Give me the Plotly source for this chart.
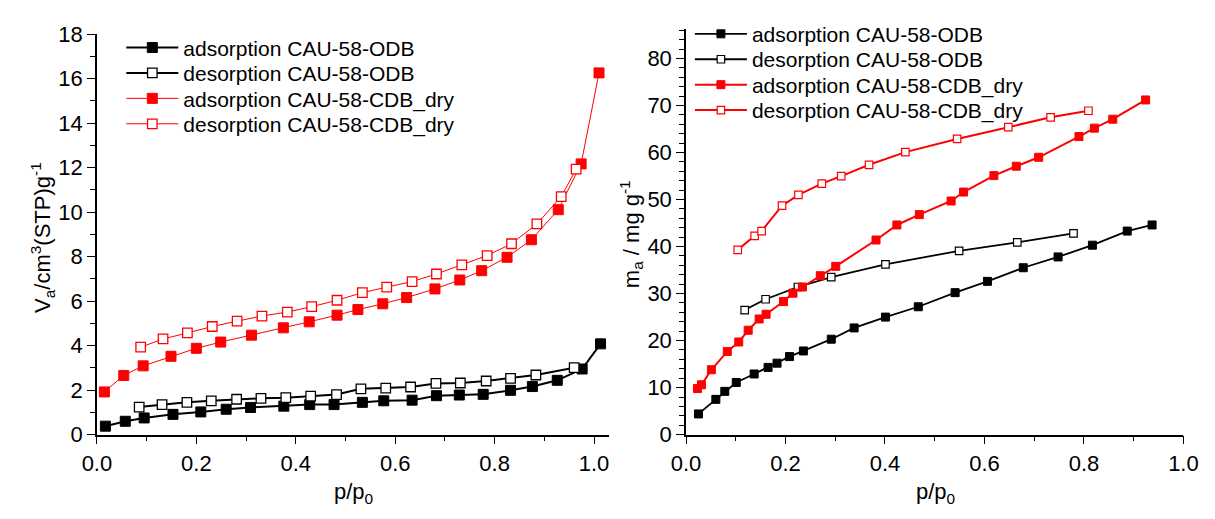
import plotly.graph_objects as go

# ---------------- Left panel: V_a vs p/p0 ----------------
L_ads_odb_x = [0.017, 0.057, 0.095, 0.153, 0.209, 0.260, 0.309, 0.376, 0.428, 0.477, 0.534,
               0.577, 0.634, 0.683, 0.729, 0.777, 0.832, 0.876, 0.926, 0.976, 1.013]
L_ads_odb_y = [0.38, 0.60, 0.75, 0.91, 1.02, 1.14, 1.22, 1.28, 1.35, 1.35, 1.45,
               1.52, 1.55, 1.75, 1.78, 1.81, 1.99, 2.16, 2.44, 2.95, 4.08]

L_des_odb_x = [0.085, 0.131, 0.181, 0.230, 0.281, 0.330, 0.380, 0.430, 0.482, 0.531,
               0.581, 0.631, 0.682, 0.731, 0.783, 0.832, 0.883, 0.960]
L_des_odb_y = [1.24, 1.35, 1.45, 1.52, 1.59, 1.63, 1.66, 1.73, 1.80, 2.06,
               2.09, 2.14, 2.30, 2.32, 2.41, 2.53, 2.68, 3.01]

L_ads_cdb_x = [0.015, 0.054, 0.093, 0.149, 0.200, 0.249, 0.311, 0.375, 0.427, 0.483, 0.525,
               0.575, 0.623, 0.680, 0.730, 0.774, 0.825, 0.874, 0.928, 0.974, 1.010]
L_ads_cdb_y = [1.92, 2.66, 3.09, 3.52, 3.88, 4.16, 4.47, 4.80, 5.07, 5.37, 5.62,
               5.88, 6.16, 6.55, 6.95, 7.37, 7.97, 8.76, 10.11, 12.17, 16.26]

L_des_cdb_x = [0.088, 0.133, 0.182, 0.232, 0.282, 0.332, 0.383, 0.432, 0.483, 0.534,
               0.583, 0.634, 0.683, 0.734, 0.785, 0.834, 0.885, 0.934, 0.964]
L_des_cdb_y = [3.93, 4.30, 4.57, 4.86, 5.10, 5.33, 5.51, 5.75, 6.04, 6.38,
               6.63, 6.88, 7.22, 7.63, 8.05, 8.58, 9.47, 10.70, 11.93]

# ---------------- Right panel: m_a vs p/p0 ----------------
R_ads_odb_x = [0.025, 0.060, 0.078, 0.101, 0.137, 0.165, 0.183, 0.208, 0.236, 0.292,
               0.338, 0.401, 0.467, 0.541, 0.606, 0.678, 0.748, 0.817, 0.887, 0.937]
R_ads_odb_y = [4.4, 7.5, 9.2, 11.1, 12.9, 14.3, 15.2, 16.6, 17.8, 20.3,
               22.7, 25.0, 27.2, 30.2, 32.6, 35.5, 37.8, 40.3, 43.3, 44.6]

R_des_odb_x = [0.118, 0.160, 0.225, 0.292, 0.401, 0.549, 0.666, 0.779]
R_des_odb_y = [26.5, 28.8, 31.4, 33.5, 36.2, 39.1, 40.9, 42.8]

R_ads_cdb_x = [0.023, 0.031, 0.051, 0.083, 0.106, 0.125, 0.147, 0.161, 0.196, 0.215, 0.234,
               0.270, 0.301, 0.382, 0.424, 0.469, 0.533, 0.558, 0.619, 0.664, 0.709,
               0.790, 0.821, 0.858, 0.924]
R_ads_cdb_y = [9.8, 10.6, 13.8, 17.7, 19.7, 22.2, 24.6, 25.6, 28.3, 30.1, 31.4,
               33.8, 35.8, 41.4, 44.6, 46.8, 49.7, 51.6, 55.1, 57.1, 59.0,
               63.4, 65.2, 67.1, 71.2]

R_des_cdb_x = [0.104, 0.138, 0.152, 0.193, 0.226, 0.273, 0.312, 0.368, 0.441, 0.545,
               0.648, 0.733, 0.809]
R_des_cdb_y = [39.3, 42.3, 43.3, 48.7, 51.0, 53.4, 55.0, 57.4, 60.1, 62.9,
               65.4, 67.5, 68.9]

names = ["adsorption CAU-58-ODB", "desorption CAU-58-ODB",
         "adsorption CAU-58-CDB_dry", "desorption CAU-58-CDB_dry"]

FONT = "Arial, 'Liberation Sans', sans-serif"
W, H = 1215, 519


def px_x(p):
    return p / W


def px_y(p):
    return 1 - p / H


fig = go.Figure()

legend_layout = {}


def add_legend(key, x_px, y_px):
    legend_layout[key] = dict(
        x=px_x(x_px), y=px_y(y_px), xanchor="left", yanchor="middle",
        bgcolor="rgba(0,0,0,0)", borderwidth=0, itemwidth=52,
        font=dict(family=FONT, size=21, color="black"), tracegroupgap=0,
    )


left_series = [
    (L_ads_odb_x, L_ads_odb_y, "black", True, 2.0, 10),
    (L_des_odb_x, L_des_odb_y, "black", False, 2.0, 9.5),
    (L_ads_cdb_x, L_ads_cdb_y, "#ff0000", True, 1.0, 10),
    (L_des_cdb_x, L_des_cdb_y, "#ff0000", False, 1.0, 9.5),
]
for i, ((xs, ys, c, filled, lw, ms), nm) in enumerate(zip(left_series, names)):
    key = "legend" if i == 0 else f"legend{i + 1}"
    add_legend(key, 109, 37.7 + 26.7 * i)
    fig.add_trace(go.Scatter(
        x=xs, y=ys, name=nm, mode="lines+markers", xaxis="x", yaxis="y",
        legend=key,
        line=dict(color=c, width=lw),
        marker=dict(symbol="square", size=ms,
                    color=c if filled else "white",
                    line=dict(color=c, width=1 if filled else 1.3)),
    ))

right_series = [
    (R_ads_odb_x, R_ads_odb_y, "black", True, 1.8, 8),
    (R_des_odb_x, R_des_odb_y, "black", False, 1.8, 7.5),
    (R_ads_cdb_x, R_ads_cdb_y, "#ff0000", True, 2.0, 8),
    (R_des_cdb_x, R_des_cdb_y, "#ff0000", False, 2.0, 7.5),
]
for i, ((xs, ys, c, filled, lw, ms), nm) in enumerate(zip(right_series, names)):
    key = f"legend{i + 5}"
    add_legend(key, 692, 23.3 + 26.7 * i)
    fig.add_trace(go.Scatter(
        x=xs, y=ys, name=nm, mode="lines+markers", xaxis="x2", yaxis="y2",
        legend=key,
        line=dict(color=c, width=lw),
        marker=dict(symbol="square", size=ms,
                    color=c if filled else "white",
                    line=dict(color=c, width=1 if filled else 1.2)),
    ))

axis_common = dict(
    showline=True, linecolor="black", linewidth=1.5, mirror=False,
    showgrid=False, zeroline=False,
    ticks="outside", ticklen=8, tickwidth=1.3, tickcolor="black",
    tickfont=dict(family=FONT, size=22, color="black"),
)
minor_common = dict(ticks="outside", ticklen=5, tickcolor="black", tickwidth=1.3)

y_bottom = px_y(444)

fig.update_layout(
    width=W, height=H,
    margin=dict(l=0, r=0, t=0, b=0),
    paper_bgcolor="white", plot_bgcolor="white",
    font=dict(family=FONT, color="black"),
    xaxis=dict(domain=[px_x(84), px_x(609)], range=[0, 1.03], anchor="y",
               tickmode="linear", tick0=0, dtick=0.2, tickformat=".1f",
               minor=dict(dtick=0.1, **minor_common), **axis_common),
    yaxis=dict(domain=[y_bottom, px_y(23.3)], range=[0, 18], anchor="x",
               tickmode="linear", tick0=0, dtick=2,
               minor=dict(dtick=1, **minor_common), **axis_common),
    xaxis2=dict(domain=[px_x(688), px_x(1198)], range=[0, 1.0], anchor="y2",
                tickmode="linear", tick0=0, dtick=0.2, tickformat=".1f",
                minor=dict(dtick=0.1, **minor_common), **axis_common),
    yaxis2=dict(domain=[y_bottom, px_y(18.3)], range=[0, 86.2], anchor="x2",
                tickmode="linear", tick0=0, dtick=10,
                minor=dict(dtick=2, **minor_common), **axis_common),
    showlegend=True,
    **legend_layout,
)

ann_font = dict(family=FONT, size=22, color="black")
fig.add_annotation(text="p/p<sub>0</sub>", x=px_x(347), y=px_y(505), xref="paper", yref="paper",
                   showarrow=False, font=ann_font, xanchor="center", yanchor="middle")
fig.add_annotation(text="p/p<sub>0</sub>", x=px_x(944), y=px_y(505), xref="paper", yref="paper",
                   showarrow=False, font=ann_font, xanchor="center", yanchor="middle")
fig.add_annotation(text="V<sub>a</sub>/cm<sup>3</sup>(STP)g<sup>-1</sup>", x=px_x(28), y=px_y(237),
                   xref="paper", yref="paper", showarrow=False, font=ann_font, textangle=-90,
                   xanchor="center", yanchor="middle")
fig.add_annotation(text="m<sub>a</sub> / mg g<sup>-1</sup>", x=px_x(632), y=px_y(233),
                   xref="paper", yref="paper", showarrow=False, font=ann_font, textangle=-90,
                   xanchor="center", yanchor="middle")

fig.write_html("out.html")
